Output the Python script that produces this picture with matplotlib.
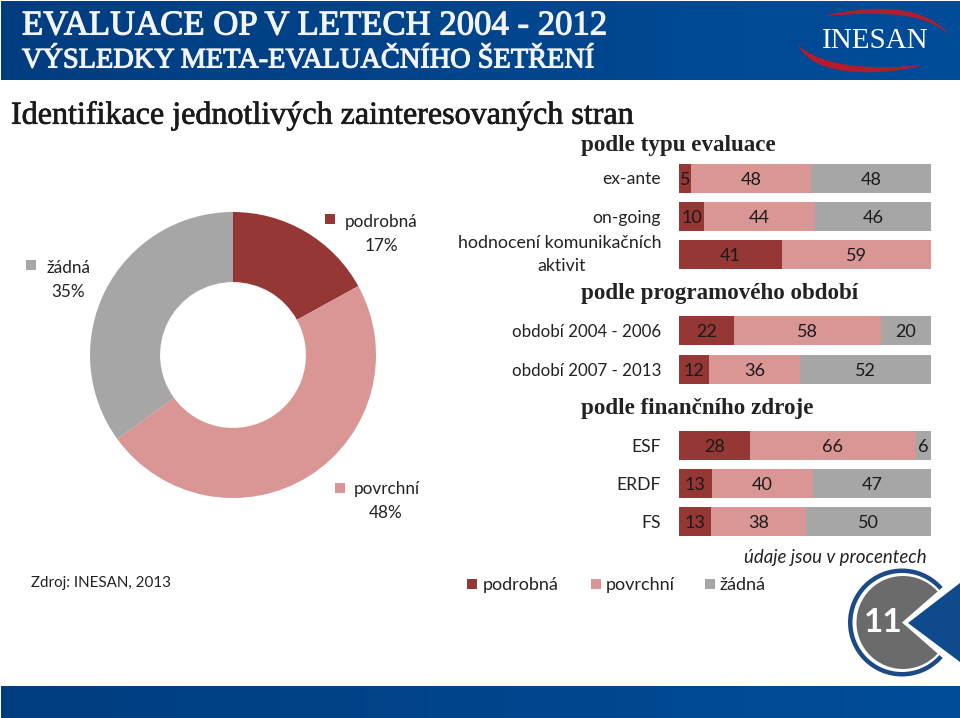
import numpy as np
import matplotlib
matplotlib.use("Agg")
import matplotlib.pyplot as plt
import matplotlib.patheffects as pe
from matplotlib.patches import Circle, Polygon, Rectangle, PathPatch
from matplotlib.path import Path

SERIES = ["podrobná", "povrchní", "žádná"]
PIE_VALUES = [17, 48, 35]
ROW_LABELS = ["ex-ante", "on-going", "hodnocení komunikačních\naktivit", None,
              "období 2004 - 2006", "období 2007 - 2013", None, "ESF", "ERDF", "FS"]
HEADINGS = {3: "podle programového období", 6: "podle finančního zdroje"}
PODROBNA = [5, 10, 41, 0, 22, 12, 0, 28, 13, 13]
POVRCHNI = [48, 44, 59, 0, 58, 36, 0, 66, 40, 38]
ZADNA = [48, 46, 0, 0, 20, 52, 0, 6, 47, 50]
COLORS = ["#953735", "#D99694", "#A6A6A6"]
SANS = "Lato"
SERIF = "Liberation Serif"
W, H = 960, 718

fig = plt.figure(figsize=(W / 100, H / 100), dpi=100, facecolor="white")

def axes_px(x0, y0, x1, y1, **kw):
    return fig.add_axes([x0 / W, 1 - y1 / H, (x1 - x0) / W, (y1 - y0) / H], **kw)

# page layer in pixel coordinates
bg = axes_px(0, 0, W, H)
bg.set_xlim(0, W); bg.set_ylim(H, 0); bg.axis("off")
grad = np.linspace(0, 1, 256)[None, :, None]
c0, c1 = np.array([0, 0.24, 0.50]), np.array([0.0, 0.30, 0.60])
img = c0 + (c1 - c0) * grad
bg.imshow(img, extent=(1, W, 80, 1), aspect="auto", zorder=1)
bg.imshow(img, extent=(1, W, 718, 686), aspect="auto", zorder=1)
bg.set_xlim(0, W); bg.set_ylim(H, 0)

def serif_text(x, y, s, size, color, stroke=0.8):
    bg.text(x, y, s, family=SERIF, fontsize=size, color=color, va="center", ha="left", zorder=3,
            path_effects=[pe.withStroke(linewidth=stroke, foreground=color)])

serif_text(22, 26, "EVALUACE OP V LETECH 2004 - 2012", 25, "#F2F4F8")
serif_text(22, 61, "VÝSLEDKY META-EVALUAČNÍHO ŠETŘENÍ", 20.4, "#F2F4F8")
serif_text(11, 116, "Identifikace jednotlivých zainteresovaných stran", 23.1, "#1a1a1a", 0.5)

# logo
bg.text(875, 41, "INESAN", family=SERIF, fontsize=21, color="white", va="center", ha="center", zorder=3)
for verts in ([(823, 16), (870, 5), (925, 3), (950, 36), (925, 11), (880, 12), (823, 16)],
              [(798, 45), (815, 80), (885, 75), (925, 65), (885, 69), (825, 70), (798, 45)]):
    codes = [Path.MOVETO] + [Path.CURVE4] * 6
    bg.add_patch(PathPatch(Path(verts, codes), fc="#B01E2E", ec="none", zorder=3))

# donut
pie_ax = axes_px(90, 212, 376, 498)
pie_ax.pie(PIE_VALUES, colors=COLORS, startangle=90, counterclock=False, radius=1.0,
           wedgeprops=dict(width=0.49))
pie_ax.set_xlim(-1, 1); pie_ax.set_ylim(-1, 1)

pie_labels = [(345, 222, 330, 219, 381, 246), (354, 489, 340, 488, 386, 513), (47, 268, 31, 265, 68, 292)]
for name, val, (tx, ty, sx, sy, vx, vy) in zip(SERIES, PIE_VALUES, pie_labels):
    c = COLORS[SERIES.index(name)]
    bg.add_patch(Rectangle((sx - 5, sy - 5), 10, 10, fc=c, ec="none"))
    bg.text(tx, ty, name, family=SANS, fontsize=12.3, color="#222222", va="center", ha="left")
    bg.text(vx, vy, f"{val}%", family=SANS, fontsize=12.3, color="#222222", va="center", ha="center")

# stacked bars
bar_ax = axes_px(679, 159, 931, 541)
rows = np.arange(len(ROW_LABELS))
vals = np.array([PODROBNA, POVRCHNI, ZADNA], dtype=float)
tot = vals.sum(axis=0)
share = np.divide(vals, tot, out=np.zeros_like(vals), where=tot > 0) * 100
left = np.zeros(len(rows))
for i, name in enumerate(SERIES):
    bar_ax.barh(rows, share[i], left=left, height=0.76, color=COLORS[i], label=name)
    for r in rows:
        if vals[i, r] > 0:
            bar_ax.text(left[r] + share[i, r] / 2, r + 0.04, f"{int(vals[i, r])}", family=SANS,
                        fontsize=13, color="#1a1a1a", ha="center", va="center")
    left += share[i]
bar_ax.set_xlim(0, 100)
bar_ax.set_ylim(len(rows) - 0.5, -0.5)
bar_ax.axis("off")
for r, label in enumerate(ROW_LABELS):
    if label is None:
        continue
    y = 179.5 + r * 38.2
    if "\n" in label:
        a, b = label.split("\n")
        bg.text(661, 243.5, a, family=SANS, fontsize=12.8, color="#222222", ha="right", va="center")
        bg.text(537, 266, b, family=SANS, fontsize=12.8, color="#222222", ha="left", va="center")
    else:
        size = 12.2 if label.startswith("období") else 12.6
        bg.text(661, y, label, family=SANS, fontsize=size, color="#222222", ha="right", va="center")
bg.text(581, 146, "podle typu evaluace", family=SERIF, weight="bold", fontsize=16.6, color="#222222",
        ha="left", va="center")
for r, h in HEADINGS.items():
    bg.text(581, 178 + r * 38.2 + 1, h, family=SERIF, weight="bold", fontsize=16.6, color="#222222",
            ha="left", va="center")

# legend
for (sx, tx), name, c in zip([(472, 483), (596, 606), (710, 720)], SERIES, COLORS):
    bg.add_patch(Rectangle((sx - 5, 579), 10, 10, fc=c, ec="none"))
    bg.text(tx, 585, name, family=SANS, fontsize=13, color="#222222", ha="left", va="center")

bg.text(31, 583, "Zdroj: INESAN, 2013", family=SANS, fontsize=10.9, color="#222222", ha="left", va="center")
bg.text(927, 558, "údaje jsou v procentech", family=SANS, style="italic", fontsize=13.4, color="#222222",
        ha="right", va="center")

# page badge
bg.add_patch(Circle((902, 622.5), 54, fc="#1C4A86", ec="none", zorder=2))
bg.add_patch(Circle((902, 622.5), 49.5, fc="white", ec="none", zorder=2.1))
bg.add_patch(Circle((903, 622.5), 46.5, fc="#6B6B6B", ec="none", zorder=2.2))
bg.add_patch(Polygon([(902, 622.5), (960, 572), (960, 673)], fc="white", ec="none", zorder=2.3))
bg.add_patch(Polygon([(908, 623), (960, 583), (960, 662)], fc="#0F4A8C", ec="none", zorder=2.4))
bg.text(883, 623, "11", family=SANS, weight="bold", fontsize=24, color="white", ha="center", va="center", zorder=3)

fig.savefig("out.png", dpi=100, facecolor="white")
